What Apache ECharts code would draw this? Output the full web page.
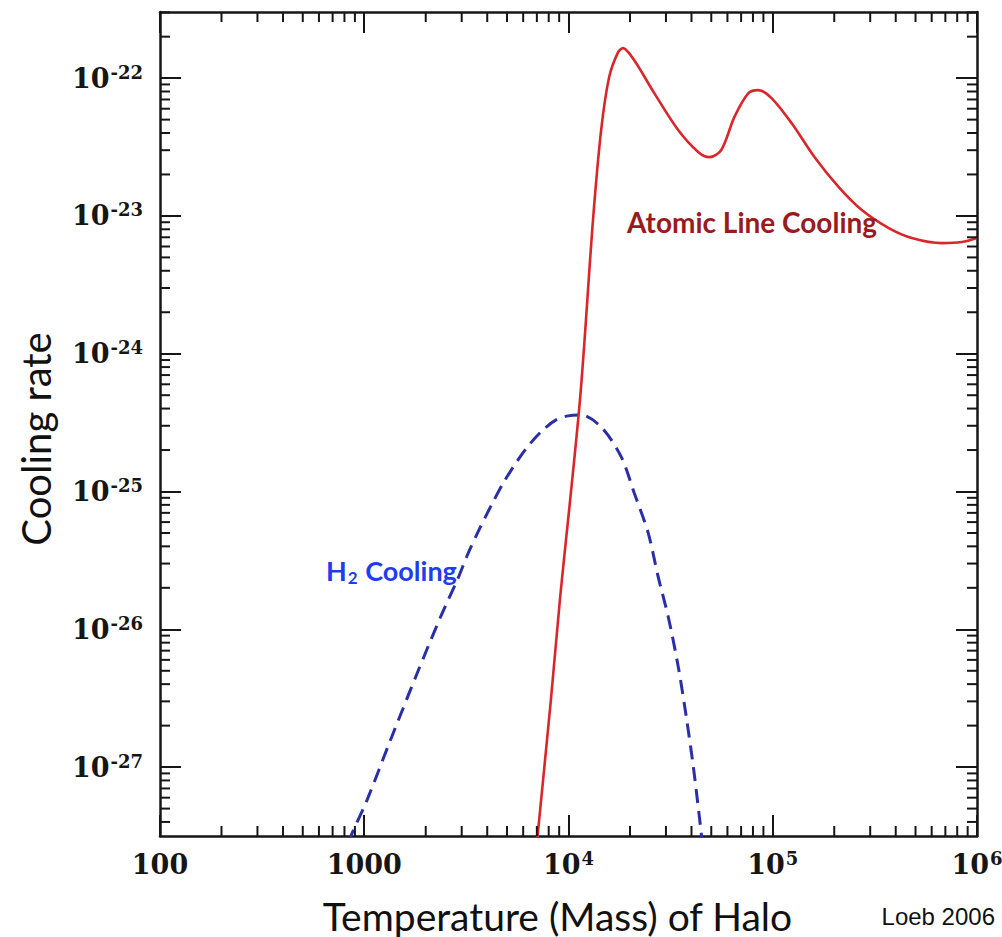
<!DOCTYPE html>
<html>
<head>
<meta charset="utf-8">
<script src="https://cdn.jsdelivr.net/npm/echarts@6/dist/echarts.min.js"></script>
<style>
html,body{margin:0;padding:0;background:#fff;}
#chart{width:1002px;height:937px;}
</style>
</head>
<body>
<div id="chart"></div>
<script>
// ---- Data ----
// Atomic line cooling (red solid): temperature [K] and cooling rate
const atomicT = [7000, 8200, 9080, 11380, 13180, 14450, 15810, 17500, 18490, 20940, 26300, 34430, 43250, 48980, 55980, 64860, 76030, 85110, 98620, 123600, 160300, 210400, 272900, 369800, 479700, 673000, 843300, 1000000];
const atomicRate = [2.8e-28, 3.08e-27, 1.64e-26, 4.62e-25, 9.33e-24, 4.20e-23, 1.016e-22, 1.545e-22, 1.652e-22, 1.352e-22, 7.78e-23, 4.20e-23, 2.90e-23, 2.67e-23, 3.01e-23, 5.21e-23, 7.78e-23, 8.18e-23, 7.16e-23, 4.72e-23, 2.67e-23, 1.62e-23, 1.104e-23, 8.17e-24, 6.92e-24, 6.35e-24, 6.47e-24, 6.92e-24];
// H2 cooling (blue dashed)
const h2T = [837, 873, 1034, 1346, 1820, 2366, 2858, 3203, 3646, 4198, 4831, 5660, 6412, 7505, 8690, 9950, 11480, 14450, 18120, 20960, 24550, 27490, 30780, 34460, 37720, 40840, 43700, 45200];
const h2Rate = [2.83e-28, 3.33e-28, 5.81e-28, 1.58e-27, 4.84e-27, 1.234e-26, 2.29e-26, 3.475e-26, 5.27e-26, 8.0e-26, 1.175e-25, 1.698e-25, 2.18e-25, 2.80e-25, 3.31e-25, 3.54e-25, 3.60e-25, 2.94e-25, 1.786e-25, 9.80e-26, 5.01e-26, 2.40e-26, 1.234e-26, 5.35e-27, 2.32e-27, 1.009e-27, 4.38e-28, 2.83e-28];

// Axis ranges and tick labels
const xRange = [100, 1e6];
const yRange = [Math.pow(10, -27.5), Math.pow(10, -21.52)];
const xTickValues = [100, 1000, 1e4, 1e5, 1e6];
const xTickLabels = ['100', '1000', '10^4', '10^5', '10^6'];
const yTickValues = [1e-27, 1e-26, 1e-25, 1e-24, 1e-23, 1e-22];
const yTickLabels = ['10^-27', '10^-26', '10^-25', '10^-24', '10^-23', '10^-22'];
const minorMultipliers = [2, 3, 4, 5, 6, 7, 8, 9];

// ---- Build helper structures ----
function toRich(lbl) {
  const p = lbl.split('^');
  return p.length === 2 ? '{b|' + p[0] + '}{s|' + p[1] + '}' : '{b|' + p[0] + '}';
}
function labelFor(values, labels, v) {
  const lv = Math.log10(v);
  for (let i = 0; i < values.length; i++) {
    if (Math.abs(Math.log10(values[i]) - lv) < 1e-3) return toRich(labels[i]);
  }
  return '';
}
function minorTicks(range) {
  const out = [];
  const lo = Math.floor(Math.log10(range[0])), hi = Math.ceil(Math.log10(range[1]));
  for (let d = lo; d <= hi; d++) {
    minorMultipliers.forEach(m => {
      const v = m * Math.pow(10, d);
      if (v > range[0] && v < range[1]) out.push(v);
    });
  }
  return out;
}
const xMinor = minorTicks(xRange);
const yMinor = minorTicks(yRange);

const INK = '#161616';
const labelRich = {
  b: {fontFamily: 'DejaVu Serif', fontWeight: 'bold', fontSize: 27, color: INK, lineHeight: 30},
  s: {fontFamily: 'DejaVu Serif', fontWeight: 'bold', fontSize: 18, color: INK, verticalAlign: 'top', lineHeight: 20, padding: [0, 0, 0, 1]}
};
const MINOR_LEN = 10;
const MAJOR_LEN = 21;

function tickSeries(values, dir) {
  return {
    type: 'custom',
    xAxisIndex: 0, yAxisIndex: 0,
    clip: false, silent: true, z: 5,
    data: values.map(v => dir === 'x' ? [v, yRange[0]] : [xRange[0], v]),
    encode: {x: 0, y: 1},
    renderItem: function (params, api) {
      const st = {stroke: INK, lineWidth: 2};
      if (dir === 'x') {
        const v = api.value(0);
        const a = api.coord([v, yRange[0]]);
        const b = api.coord([v, yRange[1]]);
        return {type: 'group', children: [
          {type: 'line', shape: {x1: a[0], y1: a[1], x2: a[0], y2: a[1] - MINOR_LEN}, style: st},
          {type: 'line', shape: {x1: b[0], y1: b[1], x2: b[0], y2: b[1] + MINOR_LEN}, style: st}
        ]};
      } else {
        const v = api.value(1);
        const a = api.coord([xRange[0], v]);
        const b = api.coord([xRange[1], v]);
        return {type: 'group', children: [
          {type: 'line', shape: {x1: a[0], y1: a[1], x2: a[0] + MINOR_LEN, y2: a[1]}, style: st},
          {type: 'line', shape: {x1: b[0], y1: b[1], x2: b[0] - MINOR_LEN, y2: b[1]}, style: st}
        ]};
      }
    }
  };
}

function logAxis(base, extra) {
  return Object.assign({
    type: 'log', logBase: 10,
    axisLine: {show: true, onZero: false, lineStyle: {color: INK, width: 2.5}},
    axisTick: {show: true, inside: true, length: MAJOR_LEN, lineStyle: {color: INK, width: 2}},
    splitLine: {show: false},
    minorTick: {show: false},
    minorSplitLine: {show: false}
  }, base, extra);
}

const chart = echarts.init(document.getElementById('chart'), null, {renderer: 'svg'});
chart.setOption({
  animation: false,
  backgroundColor: '#ffffff',
  grid: {left: 160, right: 25, top: 12, bottom: 101, outerBoundsMode: 'none'},
  xAxis: [
    logAxis({min: xRange[0], max: xRange[1], position: 'bottom'}, {
      axisLabel: {
        show: true, margin: 13, rich: labelRich,
        formatter: v => labelFor(xTickValues, xTickLabels, v)
      },
      name: 'Temperature (Mass) of Halo',
      nameLocation: 'middle', nameGap: 60,
      nameTextStyle: {fontFamily: 'Lato', fontSize: 39, color: '#111', padding: [0, 22, 0, 0]}
    }),
    logAxis({min: xRange[0], max: xRange[1], position: 'top'}, {axisLabel: {show: false}})
  ],
  yAxis: [
    logAxis({min: yRange[0], max: yRange[1], position: 'left'}, {
      axisLabel: {
        show: true, margin: 17, rich: labelRich,
        formatter: v => labelFor(yTickValues, yTickLabels, v)
      }
    }),
    logAxis({min: yRange[0], max: yRange[1], position: 'right'}, {axisLabel: {show: false}})
  ],
  series: [
    tickSeries(xMinor, 'x'),
    tickSeries(yMinor, 'y'),
    {
      name: 'H2 Cooling', type: 'line', xAxisIndex: 0, yAxisIndex: 0,
      data: h2T.map((t, i) => [t, h2Rate[i]]),
      showSymbol: false, smooth: 0.3, clip: true, z: 3,
      lineStyle: {color: '#2a2fa6', width: 3, type: [14, 8]}
    },
    {
      name: 'Atomic Line Cooling', type: 'line', xAxisIndex: 0, yAxisIndex: 0,
      data: atomicT.map((t, i) => [t, atomicRate[i]]),
      showSymbol: false, smooth: 0.3, clip: true, z: 4,
      lineStyle: {color: '#d8262b', width: 2.6}
    }
  ],
  graphic: [
    {
      type: 'text', x: 36, y: 439, rotation: Math.PI / 2, z: 10,
      style: {text: 'Cooling rate', fontFamily: 'Lato', fontSize: 40, fill: '#111', align: 'center', verticalAlign: 'middle'}
    },
    {
      type: 'text', left: 627, top: 208, z: 10,
      style: {text: 'Atomic Line Cooling', fontFamily: 'Lato', fontWeight: 'bold', fontSize: 28, fill: '#9c1a1e'}
    },
    {
      type: 'text', left: 326, top: 557, z: 10,
      style: {
        text: '{a|H}{s|2}{a| Cooling}',
        rich: {
          a: {fontFamily: 'Lato', fontWeight: 'bold', fontSize: 27, fill: '#1f3cf2', lineHeight: 30},
          s: {fontFamily: 'Lato', fontWeight: 'bold', fontSize: 17, fill: '#1f3cf2', verticalAlign: 'bottom', lineHeight: 23, padding: [0, 1, 0, 1]}
        }
      }
    },
    {
      type: 'text', right: 7, top: 904, z: 10,
      style: {text: 'Loeb 2006', fontFamily: 'Liberation Sans', fontSize: 24, fill: '#111'}
    }
  ]
});
</script>
</body>
</html>
